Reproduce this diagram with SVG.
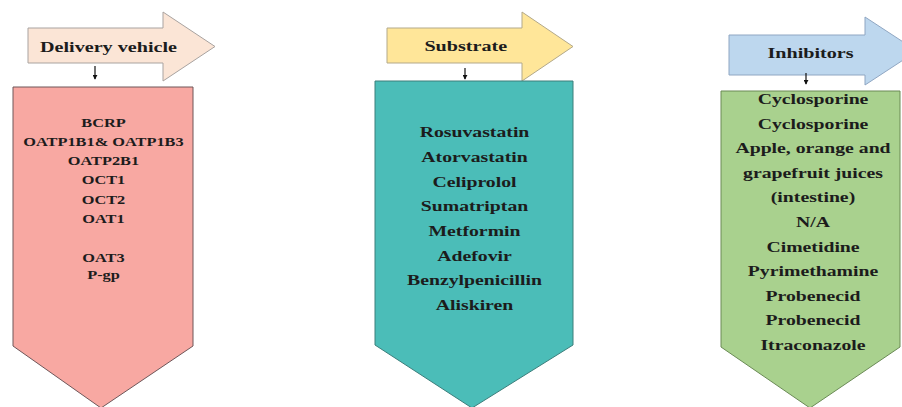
<svg xmlns="http://www.w3.org/2000/svg" width="902" height="407" viewBox="0 0 902 407">
<defs>
<style>
text{font-family:"Liberation Serif","Times New Roman",serif;font-weight:bold;fill:#1c1c1c;text-anchor:middle}
.hd{font-size:14.5px}
.c1{font-size:11.5px}
.c2{font-size:14px}
.hdr{stroke-width:1}
.pent{stroke-width:1}
.dn{stroke:#111;stroke-width:1.2;fill:none}
</style>
<marker id="ah" viewBox="0 0 6 6" refX="5" refY="3" markerWidth="5" markerHeight="5" markerUnits="userSpaceOnUse" orient="auto">
<path d="M0,0 L6,3 L0,6 Z" fill="#111"/>
</marker>
</defs>
<rect width="902" height="407" fill="#fff"/>

<g id="delivery-header">
<polygon class="hdr" points="28,28 163,28 163,12 215,46.5 163,81 163,63 28,63" fill="#fbe5d6" stroke="#a9a3a0"/>
<text class="hd" transform="translate(108.5 51.7) scale(1.39 1)">Delivery vehicle</text>
</g>
<g id="substrate-header">
<polygon class="hdr" points="387,28 522,28 522,12 573,46.5 522,81 522,63 387,63" fill="#ffe699" stroke="#b3a98a"/>
<text class="hd" transform="translate(465.8 51.2) scale(1.39 1)">Substrate</text>
</g>
<g id="inhibitors-header">
<polygon class="hdr" points="729,35 865,35 865,17 917,51 865,85 865,75 729,75" fill="#bdd7ee" stroke="#8fa6c2"/>
<text class="hd" transform="translate(810.5 57.5) scale(1.39 1)">Inhibitors</text>
</g>

<g id="connectors">
<line class="dn" x1="95" y1="66" x2="95" y2="79" marker-end="url(#ah)"/>
<line class="dn" x1="465" y1="68" x2="465" y2="79" marker-end="url(#ah)"/>
<line class="dn" x1="806" y1="73" x2="806" y2="84" marker-end="url(#ah)"/>
</g>

<g id="delivery-list">
<polygon class="pent" points="13,87 193,87 193,346 101,408 13,346" fill="#f8a8a2" stroke="#6e5659"/>
<g transform="translate(103.5 0) scale(1.42 1)">
<text class="c1" x="0" y="126.7">BCRP</text>
<text class="c1" x="0" y="146">OATP1B1&amp; OATP1B3</text>
<text class="c1" x="0" y="165">OATP2B1</text>
<text class="c1" x="0" y="184.3">OCT1</text>
<text class="c1" x="0" y="204">OCT2</text>
<text class="c1" x="0" y="223">OAT1</text>
<text class="c1" x="0" y="261.7">OAT3</text>
<text class="c1" x="0" y="279.3">P-gp</text>
</g>
</g>

<g id="substrate-list">
<polygon class="pent" points="375,81 573,81 573,345 472,408 375,345" fill="#4bbdb8" stroke="#3c7e7b"/>
<g transform="translate(474.5 0) scale(1.41 1)">
<text class="c2" x="0" y="137.3">Rosuvastatin</text>
<text class="c2" x="0" y="162">Atorvastatin</text>
<text class="c2" x="0" y="186.7">Celiprolol</text>
<text class="c2" x="0" y="211.4">Sumatriptan</text>
<text class="c2" x="0" y="236.1">Metformin</text>
<text class="c2" x="0" y="260.8">Adefovir</text>
<text class="c2" x="0" y="285.5">Benzylpenicillin</text>
<text class="c2" x="0" y="310.2">Aliskiren</text>
</g>
</g>

<g id="inhibitors-list">
<polygon class="pent" points="721,91 900,91 900,347 810,408 721,347" fill="#a9d18e" stroke="#6a8a55"/>
<g transform="translate(813 0) scale(1.41 1)">
<text class="c2" x="0" y="104">Cyclosporine</text>
<text class="c2" x="0" y="128.6">Cyclosporine</text>
<text class="c2" x="0" y="153.2">Apple, orange and</text>
<text class="c2" x="0" y="177.8">grapefruit juices</text>
<text class="c2" x="0" y="202.4">(intestine)</text>
<text class="c2" x="0" y="227">N/A</text>
<text class="c2" x="0" y="251.6">Cimetidine</text>
<text class="c2" x="0" y="276.2">Pyrimethamine</text>
<text class="c2" x="0" y="300.8">Probenecid</text>
<text class="c2" x="0" y="325.4">Probenecid</text>
<text class="c2" x="0" y="350">Itraconazole</text>
</g>
</g>
</svg>
